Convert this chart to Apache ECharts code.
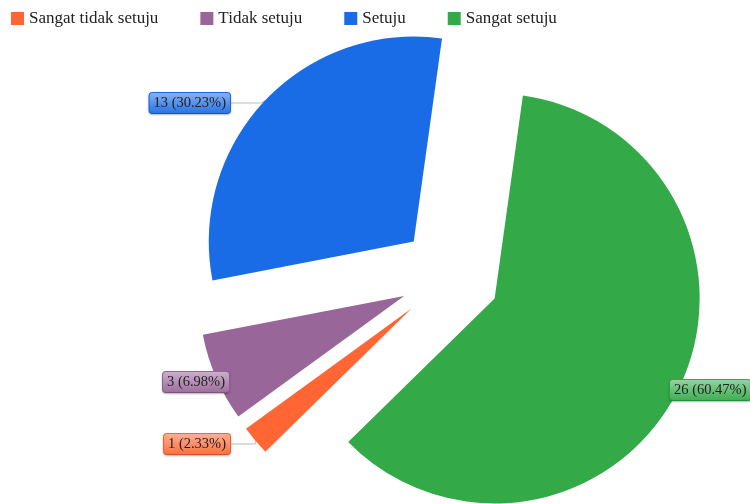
<!DOCTYPE html>
<html>
<head>
<meta charset="utf-8">
<script src="https://cdn.jsdelivr.net/npm/echarts@6/dist/echarts.min.js"></script>
<style>
  html, body { margin: 0; padding: 0; background: #fff; }
  #chart { width: 750px; height: 504px; }
</style>
</head>
<body>
<div id="chart"></div>
<script>
// data
const categories = ['Sangat tidak setuju', 'Tidak setuju', 'Setuju', 'Sangat setuju']
const counts = [1, 3, 13, 26]
const colors = ['#ff6633', '#996699', '#1a6ce6', '#33aa47']

// mix a hex colour with white, t = share of white
function tint (hex, t) {
  const n = parseInt(hex.slice(1), 16)
  const r = (n >> 16) & 255
  const g = (n >> 8) & 255
  const b = n & 255
  const f = c => Math.round(c + (255 - c) * t)
  return 'rgb(' + f(r) + ',' + f(g) + ',' + f(b) + ')'
}

// label boxes, stacked beside the slices like google charts does
const labelSpots = [
  { x: 230, y: 444, align: 'right' },
  { x: 229, y: 382, align: 'right' },
  { x: 230, y: 103, align: 'right' },
  { x: 670, y: 390, align: 'left' }
]

const total = counts.reduce((a, b) => a + b, 0)
const cx = 450
const cy = 276
const radius = 205
const explode = 50
const startDeg = 225.6 // clockwise from 12 o'clock

const chart = echarts.init(document.getElementById('chart'))

// one pie per slice so every slice can be pushed out from the centre
const series = []
let acc = 0
categories.forEach((name, k) => {
  const sweep = counts[k] / total * 360
  const mid = (startDeg + acc + sweep / 2) * Math.PI / 180
  acc += sweep
  series.push({
    type: 'pie',
    name: name,
    center: [cx + explode * Math.sin(mid), cy - explode * Math.cos(mid)],
    radius: radius,
    startAngle: 90 - startDeg,
    clockwise: true,
    silent: true,
    avoidLabelOverlap: false,
    emphasis: { disabled: true },
    label: {
      position: 'outside',
      fontFamily: 'Liberation Serif',
      fontSize: 14.5,
      color: '#222',
      padding: [3, 4, 2, 4],
      borderWidth: 1,
      borderRadius: 3,
      shadowColor: 'rgba(0,0,0,0.25)',
      shadowBlur: 2,
      shadowOffsetY: 1,
      formatter: p => p.value + ' (' + (p.value / total * 100).toFixed(2) + '%)'
    },
    labelLine: {
      lineStyle: { color: '#bbb', width: 1 }
    },
    labelLayout: p => {
      const s = labelSpots[p.dataIndex]
      return { x: s.x, y: s.y, align: s.align, verticalAlign: 'middle' }
    },
    data: categories.map((n, i) => ({
      name: n,
      value: counts[i],
      itemStyle: { color: i === k ? colors[i] : 'rgba(0,0,0,0)' },
      label: {
        show: i === k,
        borderColor: colors[i],
        backgroundColor: new echarts.graphic.LinearGradient(0, 0, 0, 1, [
          { offset: 0, color: tint(colors[i], 0.5) },
          { offset: 0.45, color: tint(colors[i], 0.28) },
          { offset: 1, color: tint(colors[i], 0.05) }
        ])
      },
      labelLine: { show: i === k }
    }))
  })
})

chart.setOption({
  animation: false,
  color: colors,
  legend: {
    left: 11,
    top: 10,
    padding: 0,
    itemWidth: 13,
    itemHeight: 13,
    itemGap: 42,
    icon: 'rect',
    selectedMode: false,
    textStyle: {
      fontFamily: 'Liberation Serif',
      fontSize: 17,
      color: '#222'
    },
    data: categories
  },
  series: series
})
</script>
</body>
</html>
